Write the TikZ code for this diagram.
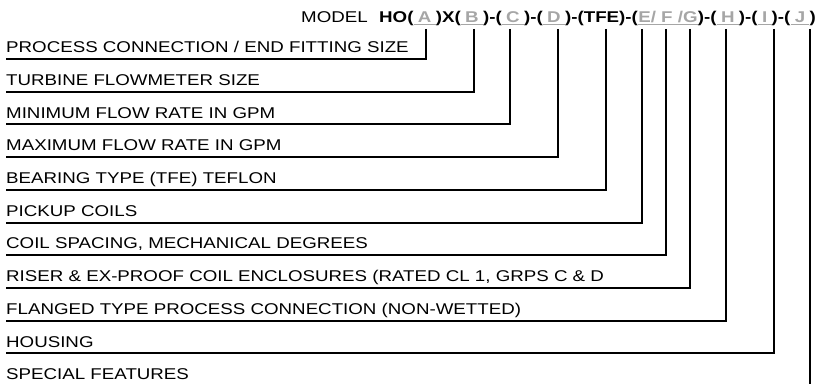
\documentclass[tikz,border=0pt]{standalone}
\usepackage{fontspec}
\setmainfont{Liberation Sans}[FakeStretch=1.2]
\definecolor{phgray}{HTML}{A6A6A6}
\begin{document}
\begin{tikzpicture}[x=1pt,y=-1pt,
  lbl/.style={anchor=base west, inner sep=0pt, font=\fontsize{15.6}{18}\selectfont},
  hdr/.style={anchor=base west, inner sep=0pt, font=\fontsize{15.6}{18}\selectfont\bfseries},
  ph/.style={anchor=base west, inner ysep=0pt, inner xsep=4pt, text=phgray, font=\fontsize{15.6}{18}\selectfont\bfseries},
  conn/.style={line width=2pt},
  ul/.style={phgray, line width=1.5pt}]
\useasboundingbox (0,0) rectangle (826,385);
% header
\node[lbl] (h0) at (301,23) {MODEL};
\node[hdr] (h1) at ([xshift=11pt]h0.base east) {HO(};
\node[ph] (gA) at (h1.base east) {A};
\node[hdr] (h2) at (gA.base east) {)X(};
\node[ph] (gB) at (h2.base east) {B};
\node[hdr] (h3) at (gB.base east) {)-(};
\node[ph] (gC) at (h3.base east) {C};
\node[hdr] (h4) at (gC.base east) {)-(};
\node[ph] (gD) at (h4.base east) {D};
\node[hdr] (h5) at (gD.base east) {)-(TFE)-(};
\node[ph, inner xsep=0pt] (gE) at (h5.base east) {E/ F /G};
\node[hdr] (h6) at (gE.base east) {)-(};
\node[ph] (gH) at (h6.base east) {H};
\node[hdr] (h7) at (gH.base east) {)-(};
\node[ph] (gI) at (h7.base east) {I};
\node[hdr] (h8) at (gI.base east) {)-(};
\node[ph] (gJ) at (h8.base east) {J};
\node[hdr] (h9) at (gJ.base east) {)};
\foreach \g in {gA,gB,gC,gD,gE,gH,gI,gJ}
  \draw[ul] ([yshift=-1.5pt]\g.base west) -- ([yshift=-1.5pt]\g.base east);
% labels
\node[lbl] (l1) at (6,52.7) {PROCESS CONNECTION / END FITTING SIZE};
\node[lbl] (l2) at (6,85.4) {TURBINE FLOWMETER SIZE};
\node[lbl] (l3) at (6,118.1) {MINIMUM FLOW RATE IN GPM};
\node[lbl] (l4) at (6,150.8) {MAXIMUM FLOW RATE IN GPM};
\node[lbl] (l5) at (6,183.5) {BEARING TYPE (TFE) TEFLON};
\node[lbl] (l6) at (6,216.2) {PICKUP COILS};
\node[lbl] (l7) at (6,248.9) {COIL SPACING, MECHANICAL DEGREES};
\node[lbl] (l8) at (6,281.6) {RISER \& EX-PROOF COIL ENCLOSURES (RATED CL 1, GRPS C \& D};
\node[lbl] (l9) at (6,314.3) {FLANGED TYPE PROCESS CONNECTION (NON-WETTED)};
\node[lbl] (l10) at (6,347) {HOUSING};
\node[lbl] (l11) at (6,379.7) {SPECIAL FEATURES};
% tick tops and line ends
\coordinate (tA) at (426,29); \coordinate (eA) at (6,59);
\coordinate (tB) at (474,29); \coordinate (eB) at (6,91.7);
\coordinate (tC) at (510,29); \coordinate (eC) at (6,124.4);
\coordinate (tD) at (558,29); \coordinate (eD) at (6,157.1);
\coordinate (tT) at (606,29); \coordinate (eT) at (6,189.8);
\coordinate (tE) at (642,29); \coordinate (eE) at (6,222.5);
\coordinate (tF) at (666,29); \coordinate (eF) at (6,255.2);
\coordinate (tG) at (690,29); \coordinate (eG) at (6,287.9);
\coordinate (tH) at (726,29); \coordinate (eH) at (6,320.6);
\coordinate (tI) at (774,29); \coordinate (eI) at (6,353.3);
\coordinate (tJ) at (810,29); \coordinate (eJ) at (810,384);
\foreach \a in {A,B,C,D,T,E,F,G,H,I}
  \draw[conn] (t\a) |- (e\a);
\draw[conn] (tJ) -- (eJ);
\end{tikzpicture}
\end{document}
